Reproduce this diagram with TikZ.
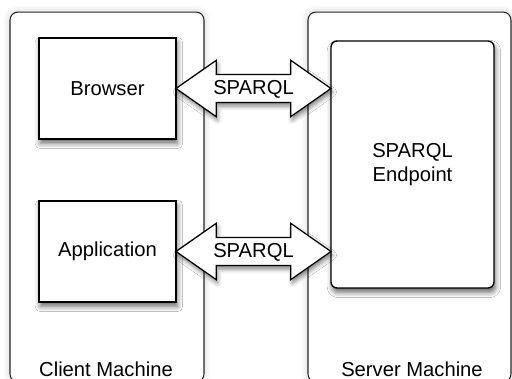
\documentclass[tikz,border=0pt]{standalone}
\usepackage{fontspec}
\setmainfont{Liberation Sans}
\usetikzlibrary{shapes.arrows,shadows.blur,calc}

\begin{document}
\begin{tikzpicture}[x=0.02cm,y=-0.02cm]
        \tikzstyle{every node}=[font=\fontsize{11.5}{13.6}\selectfont, text=black, inner sep=0pt]
        \tikzstyle{machine}=[draw=black!85, line width=0.6pt, rounded corners=4.5pt, fill=white,
                             blur shadow={shadow xshift=0pt, shadow yshift=0pt, shadow blur radius=4pt, shadow opacity=20}]
        \tikzstyle{comp}=[draw=black, line width=0.8pt, fill=white,
                          blur shadow={shadow xshift=0.8pt, shadow yshift=-2.5pt, shadow blur radius=3pt, shadow opacity=60}]
        \tikzstyle{sparql}=[double arrow, draw=black, line width=0.7pt, fill=white, minimum width=1.1cm,
                            double arrow head extend=0.28cm, double arrow tip angle=70, minimum height=3.1cm,
                            text height=11.1pt, text depth=4.25pt,
                            blur shadow={shadow xshift=0.8pt, shadow yshift=-2pt, shadow blur radius=2.5pt, shadow opacity=50}]

        \useasboundingbox (0,0) rectangle (512,379);
        \clip (0,0) rectangle (512,379);

        \node[machine, minimum width=3.88cm, minimum height=7.4cm] (client) at (107,197) {};
        \node[machine, minimum width=4.06cm, minimum height=7.4cm] (server) at (409.5,197) {};

        \node[comp, minimum width=2.74cm, minimum height=2.02cm] (brw) at (107.5,88.5)  {Browser};
        \node[comp, minimum width=2.74cm, minimum height=2.02cm] (app) at (107.5,251.5) {Application};
        \node[comp, rounded corners=3.4pt, minimum width=3.26cm, minimum height=4.94cm, align=center] (end) at (412.5,164.5) {SPARQL\\Endpoint};

        \node[sparql] (q1) at ($(brw.east)!0.5!(end.west |- brw.east)$) {SPARQL};
        \node[sparql] (q2) at ($(app.east)!0.5!(end.west |- app.east)$) {SPARQL};

        \node[anchor=base] (clientlbl) at (106,377) {Client Machine};
        \node[anchor=base] (serverlbl) at (412,377) {Server Machine};
    \end{tikzpicture}
\end{document}
